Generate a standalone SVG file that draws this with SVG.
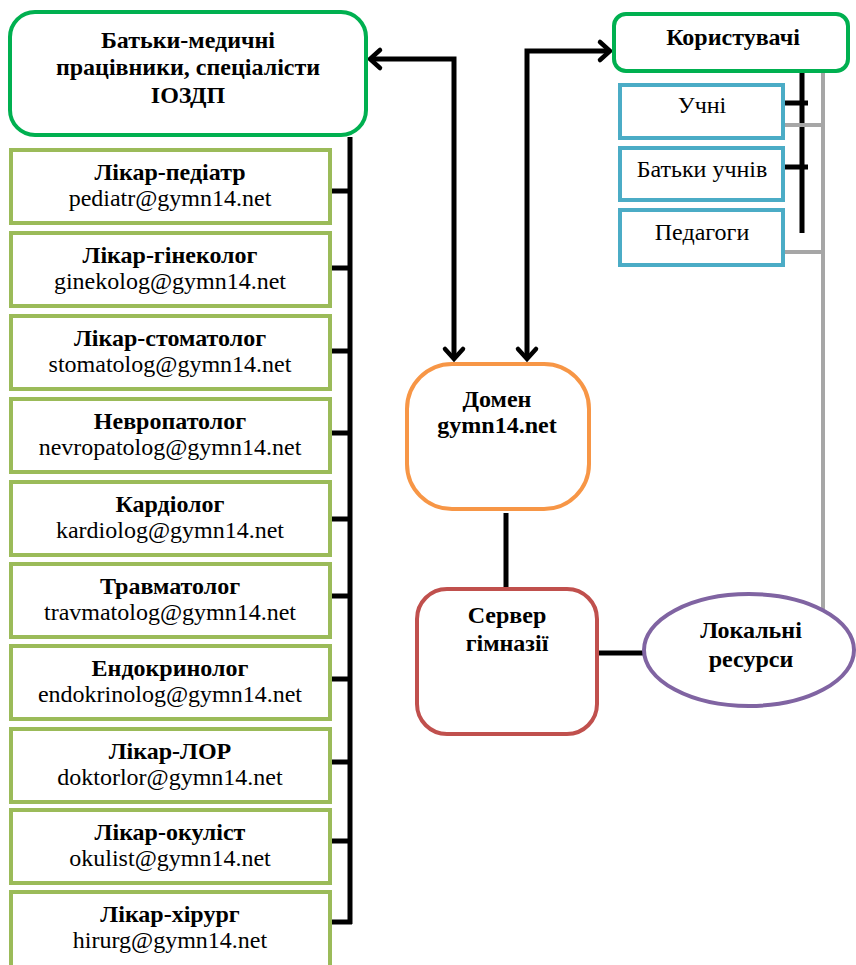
<svg xmlns="http://www.w3.org/2000/svg" width="856" height="965" viewBox="0 0 856 965">
<style>
text{font-family:"Liberation Serif","Times New Roman",serif !important;font-size:24px;fill:#000;text-anchor:middle}
.b{font-weight:bold}
.box{fill:#fff;stroke-width:4}
.hdr{stroke:#00b050}
.lst{stroke:#9bbb59}
.usr{stroke:#4bacc6}
.con{fill:none;stroke:#000;stroke-width:5}
.gry{fill:none;stroke:#a6a6a6;stroke-width:4}
</style>
<defs>
<marker id="arr" markerUnits="userSpaceOnUse" viewBox="-14 -13 18 26" markerWidth="18" markerHeight="26" refX="0" refY="0" orient="auto-start-reverse">
<path d="M -10 -9 L 0 0 L -10 9" fill="none" stroke="#000" stroke-width="4.5" stroke-linecap="round" stroke-linejoin="miter"/>
</marker>
</defs>
<rect width="856" height="965" fill="#fff"/>
<g id="connectors">
<path class="con" d="M 454 359 L 454 59 L 370 59" marker-start="url(#arr)" marker-end="url(#arr)"/>
<path class="con" d="M 527 359 L 527 51 L 610 51" marker-start="url(#arr)" marker-end="url(#arr)"/>
<path class="con" d="M 350 137 L 350 924"/>
<path class="con" d="M 332 191 H 350 M 332 268 H 350 M 332 351 H 350 M 332 433 H 350 M 332 519 H 350 M 332 596 H 350 M 332 679 H 350 M 332 762 H 350 M 332 841 H 350 M 332 922 H 352"/>
<path class="con" d="M 802 73 L 802 233"/>
<path class="con" d="M 785 103 H 808 M 785 167 H 808"/>
<path class="gry" d="M 823 73 L 823 609 M 785 125 H 823 M 785 252 H 823"/>
<path class="con" d="M 506 513 L 506 589"/>
<path class="con" d="M 599 653 L 644 653"/>
</g>
<g font-family="Liberation Serif, serif" style="font-family:'Liberation Serif',serif">
<g id="parents">
<rect class="box hdr" x="10" y="12" width="356" height="123" rx="25"/>
<text class="b" x="188" y="48">Батьки-медичні</text>
<text class="b" x="188" y="75">працівники, спеціалісти</text>
<text class="b" x="188" y="103">ІОЗДП</text>
</g>
<g id="pediatr"><rect class="box lst" x="11" y="150" width="319" height="73"/><text class="b" x="170" y="180">Лікар-педіатр</text><text x="170" y="206">pediatr@gymn14.net</text></g>
<g id="ginekolog"><rect class="box lst" x="11" y="233" width="319" height="73"/><text class="b" x="170" y="263">Лікар-гінеколог</text><text x="170" y="289">ginekolog@gymn14.net</text></g>
<g id="stomatolog"><rect class="box lst" x="11" y="316" width="319" height="73"/><text class="b" x="170" y="346">Лікар-стоматолог</text><text x="170" y="372">stomatolog@gymn14.net</text></g>
<g id="nevropatolog"><rect class="box lst" x="11" y="399" width="319" height="73"/><text class="b" x="170" y="429">Невропатолог</text><text x="170" y="455">nevropatolog@gymn14.net</text></g>
<g id="kardiolog"><rect class="box lst" x="11" y="482" width="319" height="73"/><text class="b" x="170" y="512">Кардіолог</text><text x="170" y="538">kardiolog@gymn14.net</text></g>
<g id="travmatolog"><rect class="box lst" x="11" y="564" width="319" height="73"/><text class="b" x="170" y="594">Травматолог</text><text x="170" y="620">travmatolog@gymn14.net</text></g>
<g id="endokrinolog"><rect class="box lst" x="11" y="646" width="319" height="73"/><text class="b" x="170" y="676">Ендокринолог</text><text x="170" y="702">endokrinolog@gymn14.net</text></g>
<g id="lor"><rect class="box lst" x="11" y="729" width="319" height="73"/><text class="b" x="170" y="759">Лікар-ЛОР</text><text x="170" y="785">doktorlor@gymn14.net</text></g>
<g id="okulist"><rect class="box lst" x="11" y="810" width="319" height="73"/><text class="b" x="170" y="840">Лікар-окуліст</text><text x="170" y="866">okulist@gymn14.net</text></g>
<g id="hirurg"><rect class="box lst" x="11" y="892" width="319" height="80"/><text class="b" x="170" y="922">Лікар-хірург</text><text x="170" y="948">hirurg@gymn14.net</text></g>
<g id="users">
<rect class="box hdr" x="614" y="14" width="234" height="57" rx="12"/>
<text class="b" x="733" y="45">Користувачі</text>
</g>
<g id="pupils"><rect class="box usr" x="620" y="85" width="163" height="53"/><text x="702" y="113">Учні</text></g>
<g id="pupil-parents"><rect class="box usr" x="620" y="148" width="163" height="52"/><text x="702" y="177">Батьки учнів</text></g>
<g id="teachers"><rect class="box usr" x="620" y="210" width="163" height="55"/><text x="702" y="240">Педагоги</text></g>
<g id="domain">
<rect class="box" x="407" y="364" width="182" height="145" rx="45" stroke="#f79646"/>
<text class="b" x="497" y="407">Домен</text>
<text class="b" x="497" y="433">gymn14.net</text>
</g>
<g id="server">
<rect class="box" x="417" y="589" width="180" height="145" rx="30" stroke="#c0504d"/>
<text class="b" x="507" y="623">Сервер</text>
<text class="b" x="507" y="651">гімназії</text>
</g>
<g id="local">
<ellipse class="box" cx="749" cy="650" rx="105" ry="56" stroke="#8064a2"/>
<text class="b" x="751" y="638">Локальні</text>
<text class="b" x="751" y="667">ресурси</text>
</g>
</g>
</svg>
